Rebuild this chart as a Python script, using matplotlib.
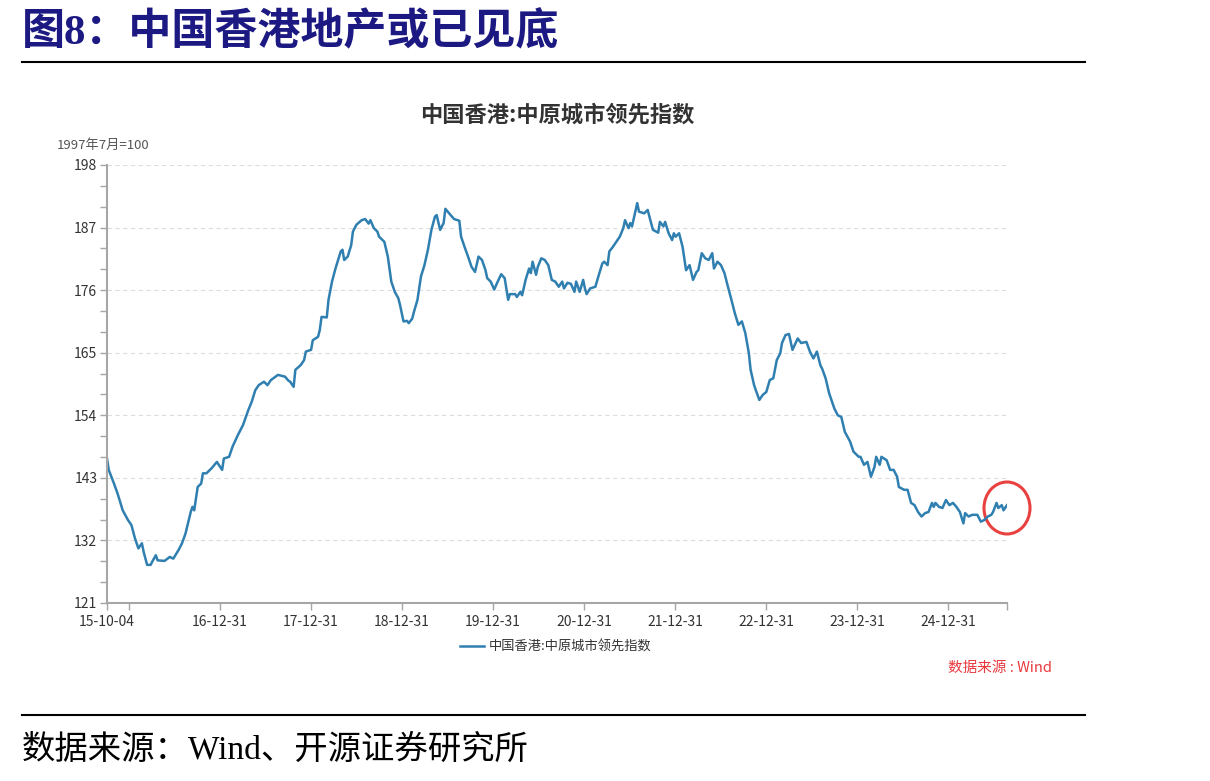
import pandas as pd
import matplotlib
matplotlib.use("Agg")
import matplotlib.pyplot as plt
from matplotlib.lines import Line2D
from matplotlib.patches import Ellipse

plt.rcParams['font.family'] = ['Noto Sans CJK SC', 'DejaVu Sans']
plt.rcParams['axes.unicode_minus'] = False

# -----------------------------
# data: Centaline Leading Index (CCL), weekly
# week = weeks since 2015-10-04
# -----------------------------
start_date = "2015-10-04"
weeks = [
    0, 1, 4, 6, 9, 12, 14, 16, 18, 20, 21, 23, 25, 26, 28, 29, 33, 36, 38, 41,
    43, 45, 48, 49, 50, 52, 54, 55, 57, 60, 63, 66, 67, 70, 72, 75, 78, 81, 83, 85,
    87, 90, 92, 94, 98, 102, 104, 105, 107, 108, 111, 113, 114, 117, 118, 121, 122, 123, 126, 127,
    129, 131, 134, 135, 136, 138, 140, 141, 143, 146, 148, 150, 151, 153, 155, 156, 159, 161, 163, 165,
    167, 168, 170, 172, 173, 175, 176, 178, 180, 182, 184, 186, 188, 189, 191, 193, 194, 197, 199, 202,
    203, 205, 207, 209, 211, 213, 215, 217, 218, 220, 222, 224, 226, 228, 230, 231, 234, 235, 237, 238,
    240, 242, 243, 244, 246, 247, 249, 251, 253, 255, 257, 259, 261, 262, 264, 266, 268, 269, 271, 273,
    274, 275, 277, 280, 282, 284, 285, 287, 288, 290, 292, 294, 296, 297, 299, 300, 301, 304, 305, 308,
    310, 311, 313, 316, 317, 319, 320, 322, 324, 325, 326, 328, 330, 332, 334, 336, 338, 339, 341, 343,
    345, 347, 348, 350, 352, 354, 356, 358, 360, 362, 364, 366, 368, 369, 371, 372, 374, 376, 378, 380,
    382, 384, 386, 387, 389, 391, 393, 396, 398, 401, 403, 405, 407, 409, 410, 412, 414, 415, 417, 419,
    421, 423, 426, 428, 431, 432, 434, 436, 438, 440, 441, 443, 444, 447, 449, 451, 453, 454, 457, 459,
    461, 463, 465, 467, 469, 471, 473, 474, 475, 477, 479, 481, 483, 485, 487, 489, 491, 492, 494, 496,
    497, 499, 501, 503, 505, 507, 508, 510, 511, 513, 514, 516,
]
ccl = [
    146.4, 144.4, 142.0, 140.3, 137.3, 135.6, 134.7, 132.4, 130.6, 131.5, 130.0, 127.7, 127.7, 128.3, 129.4, 128.5, 128.4, 129.1, 128.8, 130.3,
    131.5, 133.2, 137.0, 137.9, 137.3, 141.4, 142.0, 143.8, 143.8, 144.7, 145.8, 144.4, 146.4, 146.7, 148.5, 150.5, 152.3, 154.9, 156.4, 158.4,
    159.3, 159.9, 159.3, 160.2, 161.1, 160.8, 160.1, 159.9, 159.0, 162.0, 162.8, 163.7, 165.2, 165.5, 167.2, 167.8, 169.0, 171.3, 171.2, 174.3,
    177.5, 179.8, 182.8, 183.1, 181.3, 181.9, 183.9, 186.3, 187.5, 188.3, 188.5, 187.7, 188.3, 186.9, 186.3, 185.4, 184.5, 181.9, 177.5, 175.7,
    174.6, 173.4, 170.5, 170.6, 170.2, 171.0, 172.2, 174.3, 178.4, 180.4, 183.1, 186.6, 188.9, 189.2, 186.6, 187.8, 190.3, 189.2, 188.5, 188.2,
    185.4, 183.6, 181.9, 180.1, 179.2, 181.9, 181.3, 179.5, 178.1, 177.5, 176.1, 177.5, 178.8, 178.1, 174.3, 175.3, 175.3, 174.8, 175.7, 175.1,
    177.8, 179.8, 179.0, 181.0, 178.7, 180.1, 181.6, 181.3, 180.4, 177.8, 177.5, 176.6, 177.5, 176.3, 177.3, 177.1, 175.7, 177.5, 175.7, 177.8,
    176.3, 175.3, 176.3, 176.6, 178.7, 180.7, 181.0, 180.4, 182.8, 183.6, 184.5, 185.4, 186.9, 188.3, 186.9, 187.8, 187.2, 191.3, 189.8, 189.5,
    190.1, 188.9, 186.6, 186.1, 188.0, 187.2, 188.0, 186.0, 184.8, 186.0, 185.4, 186.0, 183.6, 179.5, 180.4, 177.8, 179.2, 179.5, 182.5, 181.6,
    181.3, 182.5, 179.8, 181.0, 180.4, 179.0, 176.6, 174.3, 171.9, 169.9, 170.5, 168.4, 164.9, 162.0, 159.3, 158.4, 156.7, 157.6, 158.1, 160.2,
    160.5, 163.7, 164.9, 166.7, 168.1, 168.3, 165.5, 167.5, 166.7, 166.9, 165.2, 164.0, 165.2, 162.8, 162.2, 160.5, 157.9, 157.0, 155.2, 154.0,
    153.7, 151.1, 149.4, 147.6, 146.7, 146.7, 145.3, 145.8, 143.2, 144.9, 146.7, 145.3, 146.7, 146.1, 144.4, 144.4, 143.2, 141.4, 140.9, 140.9,
    138.6, 138.2, 137.0, 136.2, 136.8, 137.0, 138.6, 137.9, 138.6, 137.9, 137.7, 139.1, 138.2, 138.6, 137.9, 137.0, 135.0, 136.8, 136.2, 136.5,
    136.5, 136.5, 135.3, 135.6, 136.2, 136.5, 137.0, 138.6, 137.7, 138.2, 137.3, 138.2,
]

tick_dates = ["2015-10-04", "2015-12-31", "2016-12-31", "2017-12-31", "2018-12-31", "2019-12-31",
              "2020-12-31", "2021-12-31", "2022-12-31", "2023-12-31", "2024-12-31"]
tick_labels = ["15-10-04", "", "16-12-31", "17-12-31", "18-12-31", "19-12-31",
               "20-12-31", "21-12-31", "22-12-31", "23-12-31", "24-12-31"]
y_ticks = [121, 132, 143, 154, 165, 176, 187, 198]

dates = pd.Timestamp(start_date) + pd.to_timedelta([7 * w for w in weeks], unit="D")
series_name = "中国香港:中原城市领先指数"

# -----------------------------
# figure
# -----------------------------
fig = plt.figure(figsize=(12.1, 7.81), dpi=100)
ax = fig.add_axes([107 / 1210, 1 - 603 / 781, 900 / 1210, 438 / 781])

line_color = "#2f7fb0"
ax.plot(dates, ccl, color=line_color, lw=1.8, label=series_name)

ax.set_xlim(dates[0], dates[-1])
ax.set_ylim(121, 198)

xt = list(pd.to_datetime(tick_dates)) + [dates[-1]]
ax.set_xticks(xt)
ax.set_xticklabels(tick_labels + [""])
ax.set_yticks(y_ticks)
ax.set_yticks([v + k * 11 / 3 for v in y_ticks[:-1] for k in (1, 2)], minor=True)

axis_grey = "#a6a6a6"
for s in ("top", "right"):
    ax.spines[s].set_visible(False)
for s in ("left", "bottom"):
    ax.spines[s].set_color(axis_grey)
    ax.spines[s].set_linewidth(1.5)
ax.tick_params(axis="both", which="both", direction="out", length=5, width=1,
               color=axis_grey, labelcolor="#333333", labelsize=10, pad=2)
ax.tick_params(axis="x", pad=4)
ax.grid(axis="y", which="major", color="#dddddd", ls=(0, (4, 3)), lw=0.8)

# chart title and unit
fig.text(557 / 1210, 1 - 115 / 781, series_name, ha="center", va="center",
         fontsize=16, fontweight="bold", color="#333333")
fig.text(57 / 1210, 1 - 145 / 781, "1997年7月=100", ha="left", va="center",
         fontsize=9.5, color="#555555")

ax.legend(loc="center", bbox_to_anchor=(556 / 1210, 1 - 647 / 781),
          bbox_transform=fig.transFigure, frameon=False, fontsize=9.5,
          handlelength=1.8, handletextpad=0.4, labelcolor="#333333")

fig.text(1052 / 1210, 1 - 668 / 781, "数据来源 : Wind", ha="right", va="center",
         fontsize=10.5, color="#e8383d")

# red circle on the latest readings
ax.add_patch(Ellipse((1.0, 95 / 438), 46 / 900, 52 / 438, transform=ax.transAxes,
                     fill=False, edgecolor="#e8413f", lw=2.2, clip_on=False))

# report frame: heading, rules and source
fig.text(22 / 1210, 1 - 33 / 781, "图8：中国香港地产或已见底", ha="left", va="center",
         fontsize=31, fontweight="bold", color="#1c1a82",
         family=["Liberation Serif", "Noto Sans CJK SC"])
fig.add_artist(Line2D([22 / 1210, 1085 / 1210], [1 - 62 / 781] * 2, color="black", lw=1.5))
fig.add_artist(Line2D([22 / 1210, 1085 / 1210], [1 - 715 / 781] * 2, color="black", lw=1.5))
fig.text(22 / 1210, 1 - 750 / 781, "数据来源：Wind、开源证券研究所", ha="left", va="center",
         fontsize=24, color="black", family=["Liberation Serif", "Noto Sans CJK SC"])

fig.savefig("out.png", dpi=100)
